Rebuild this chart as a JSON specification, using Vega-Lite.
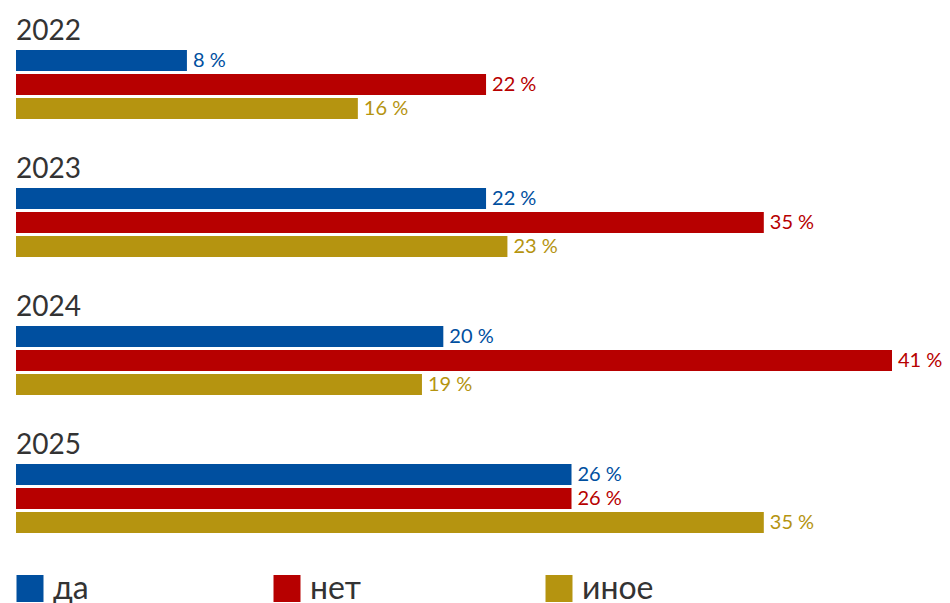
{
  "$schema": "https://vega.github.io/schema/vega-lite/v6.json",
  "width": 876,
  "height": 552,
  "padding": {"left": 14, "top": 15.5, "right": 0, "bottom": 0},
  "autosize": {"type": "pad"},
  "config": {"view": {"stroke": null}, "font": "Lato"},
  "data": {"values": [
    {"year": "2022", "cat": "да", "value": 8, "label": "8 %"},
    {"year": "2022", "cat": "нет", "value": 22, "label": "22 %"},
    {"year": "2022", "cat": "иное", "value": 16, "label": "16 %"},
    {"year": "2023", "cat": "да", "value": 22, "label": "22 %"},
    {"year": "2023", "cat": "нет", "value": 35, "label": "35 %"},
    {"year": "2023", "cat": "иное", "value": 23, "label": "23 %"},
    {"year": "2024", "cat": "да", "value": 20, "label": "20 %"},
    {"year": "2024", "cat": "нет", "value": 41, "label": "41 %"},
    {"year": "2024", "cat": "иное", "value": 19, "label": "19 %"},
    {"year": "2025", "cat": "да", "value": 26, "label": "26 %"},
    {"year": "2025", "cat": "нет", "value": 26, "label": "26 %"},
    {"year": "2025", "cat": "иное", "value": 35, "label": "35 %"}
  ]},
  "encoding": {
    "y": {"field": "year", "type": "nominal", "sort": ["2022", "2023", "2024", "2025"], "scale": {"paddingInner": 0.5, "paddingOuter": 0.25}, "axis": null}
  },
  "layer": [
    {
      "mark": {"type": "bar"},
      "encoding": {
        "x": {"field": "value", "type": "quantitative", "scale": {"domain": [0, 41], "nice": false, "zero": true}, "axis": null},
        "yOffset": {"field": "cat", "type": "nominal", "sort": ["да", "нет", "иное"], "scale": {"paddingInner": 0.125, "paddingOuter": 0}},
        "color": {
          "field": "cat", "type": "nominal",
          "scale": {"domain": ["да", "нет", "иное"], "range": ["#004f9f", "#b70000", "#b59410"]},
          "legend": {
            "orient": "none", "legendX": -2, "legendY": 557, "direction": "horizontal",
            "title": null, "symbolType": "square", "symbolSize": 729, "symbolStrokeWidth": 0,
            "symbolOpacity": 1, "labelFontSize": 32, "labelColor": "#333333", "labelOffset": 7,
            "columnPadding": 182, "labelFont": "Lato"
          }
        }
      }
    },
    {
      "mark": {"type": "text", "align": "left", "baseline": "middle", "dx": 6, "fontSize": 20},
      "encoding": {
        "x": {"field": "value", "type": "quantitative"},
        "yOffset": {"field": "cat", "type": "nominal", "sort": ["да", "нет", "иное"]},
        "text": {"field": "label"},
        "color": {"field": "cat", "type": "nominal"}
      }
    },
    {
      "data": {"values": [{"year": "2022"}, {"year": "2023"}, {"year": "2024"}, {"year": "2025"}]},
      "mark": {"type": "text", "align": "left", "baseline": "alphabetic", "dy": -10, "fontSize": 28, "color": "#333333"},
      "encoding": {
        "x": {"datum": 0},
        "y": {"field": "year", "type": "nominal", "bandPosition": 0},
        "text": {"field": "year"}
      }
    }
  ]
}
